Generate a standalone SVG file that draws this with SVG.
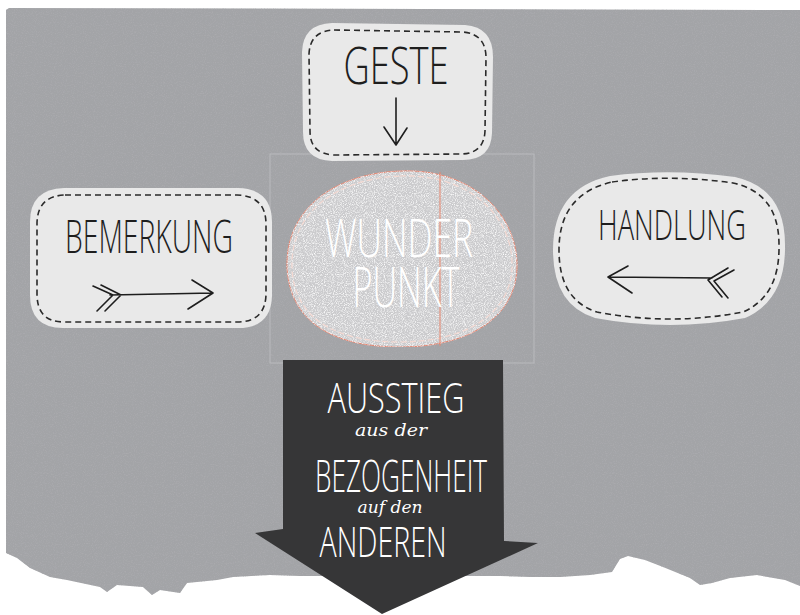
<svg xmlns="http://www.w3.org/2000/svg" width="800" height="615" viewBox="0 0 800 615">
<defs>
<style>
.box{fill:#e9e9e9;}
.dash{fill:none;stroke:#2a2a2a;stroke-width:1.6;stroke-dasharray:6 4;}
.pen{fill:none;stroke:#1e1e1e;stroke-width:1.6;stroke-linecap:round;stroke-linejoin:round;}
.hand{font-family:"Open Sans","DejaVu Sans",sans-serif;font-weight:300;text-anchor:middle;}
.dark{fill:#1e1e1e;}
.light{fill:#ffffff;}
.script{font-family:"DejaVu Serif","Liberation Serif",serif;font-style:italic;text-anchor:middle;fill:#ffffff;}
</style>
<filter id="grain" x="0" y="0" width="100%" height="100%">
<feTurbulence type="fractalNoise" baseFrequency="0.9" numOctaves="2" seed="3" result="n"/>
<feColorMatrix in="n" type="matrix" values="0 0 0 0 0.4  0 0 0 0 0.4  0 0 0 0 0.42  0 0 0 -3 1.6" result="s"/>
<feComposite in="s" in2="SourceGraphic" operator="in" result="sp"/>
<feMerge><feMergeNode in="SourceGraphic"/><feMergeNode in="sp"/></feMerge>
</filter>
<filter id="grain2" x="0" y="0" width="100%" height="100%">
<feTurbulence type="fractalNoise" baseFrequency="1.1" numOctaves="1" seed="7" result="n"/>
<feColorMatrix in="n" type="matrix" values="0 0 0 0 1  0 0 0 0 1  0 0 0 0 1  0 0 0 -2.5 1.4" result="s"/>
<feComposite in="s" in2="SourceGraphic" operator="in" result="sp"/>
<feMerge><feMergeNode in="SourceGraphic"/><feMergeNode in="sp"/></feMerge>
</filter>
</defs>
<rect width="800" height="615" fill="#ffffff"/>
<g id="paper">
<path filter="url(#grain)" fill="#a3a4a7" d="M 9,8 L 800,10 L 800,586 L 785,580 L 757,575 L 730,578 L 712,583 L 700,585 L 690,578 L 663,567 L 645,560 L 628,556 L 620,559 L 612,572 L 590,575 L 560,577 L 530,577 L 500,576 L 300,576 L 270,575 L 233,577 L 217,580 L 187,583 L 180,593 L 160,590 L 152,595 L 143,587 L 117,585 L 107,592 L 100,587 L 67,580 L 50,577 L 30,568 L 17,558 L 6,553 L 6,10 Z"/>
<rect x="270" y="154" width="264" height="209" fill="none" stroke="#b9babd" stroke-width="1"/>
</g>
<g id="geste">
<path class="box" d="M 332,23 L 465,25 Q 493,27 493,57 L 492,133 Q 491,160 463,160 L 332,161 Q 303,160 303,132 L 302,52 Q 303,24 332,23 Z"/>
<path class="dash" d="M 334,30 L 463,32 Q 486,34 486,58 L 485,131 Q 484,153 462,154 L 334,155 Q 310,154 310,131 L 309,54 Q 310,31 334,30 Z"/>
<text class="hand dark" x="396" y="84" font-size="52" textLength="105" lengthAdjust="spacingAndGlyphs">GESTE</text>
<path class="pen" d="M 396,98 L 396,145 M 384,127 L 396,145 L 407,128"/>
</g>
<g id="bemerkung">
<path class="box" d="M 64,188 L 238,188 Q 272,189 272,222 L 272,296 Q 271,328 238,328 L 63,328 Q 30,328 30,295 L 30,222 Q 30,189 64,188 Z"/>
<path class="dash" d="M 65,195 L 237,195 Q 266,196 266,224 L 266,295 Q 265,322 237,322 L 64,322 Q 37,322 37,294 L 37,224 Q 37,196 65,195 Z"/>
<text class="hand dark" x="149" y="253" font-size="46" textLength="168" lengthAdjust="spacingAndGlyphs">BEMERKUNG</text>
<path class="pen" d="M 110,295 L 213,293 M 192,280 L 213,293 L 188,309 M 93,286 L 113,295 L 97,311 M 101,285 L 121,295 L 105,311"/>
</g>
<g id="handlung">
<path class="box" d="M 610,176 Q 670,168 735,177 Q 785,188 785,245 Q 786,300 745,318 Q 670,332 595,318 Q 553,305 553,250 Q 553,188 610,176 Z"/>
<path class="dash" d="M 612,182 Q 670,174 733,183 Q 779,193 779,245 Q 780,296 743,312 Q 670,326 597,312 Q 559,300 559,250 Q 559,194 612,182 Z"/>
<text class="hand dark" x="672" y="240" font-size="42" textLength="148" lengthAdjust="spacingAndGlyphs">HANDLUNG</text>
<path class="pen" d="M 608,277 L 712,278 M 628,266 L 608,277 L 632,293 M 728,268 L 708,280 L 722,297 M 734,270 L 714,281 L 728,298"/>
</g>
<g id="wunderpunkt">
<path filter="url(#grain2)" fill="#cbcbcd" stroke="#e8866f" stroke-width="1" d="M 400,171 C 470,168 515,212 517,262 C 519,315 472,347 400,347 C 330,347 290,320 287,268 C 285,212 330,174 400,171 Z"/>
<path fill="none" stroke="#f4d9d2" stroke-width="1.2" stroke-dasharray="6 3" d="M 400,176 C 466,173 511,214 512,262 C 514,311 469,342 400,342 C 333,342 294,317 292,268 C 290,215 333,179 400,176 Z"/>
<line x1="440" y1="172" x2="440" y2="346" stroke="#e8866f" stroke-width="1"/>
<text class="hand light" x="399" y="257" font-size="54" textLength="148" lengthAdjust="spacingAndGlyphs">WUNDER</text>
<text class="hand light" x="406" y="307" font-size="55" textLength="107" lengthAdjust="spacingAndGlyphs">PUNKT</text>
</g>
<g id="ausstieg">
<path fill="#363637" d="M 283,360 L 503,360 L 504,541 L 538,543 L 382,614 L 255,533 L 283,529 Z"/>
<text class="hand light" x="396" y="413" font-size="43" textLength="137" lengthAdjust="spacingAndGlyphs">AUSSTIEG</text>
<text class="script" x="391" y="436" font-size="17" textLength="72" lengthAdjust="spacingAndGlyphs">aus der</text>
<text class="hand light" x="401" y="492" font-size="45" textLength="172" lengthAdjust="spacingAndGlyphs">BEZOGENHEIT</text>
<text class="script" x="390" y="513" font-size="17" textLength="65" lengthAdjust="spacingAndGlyphs">auf den</text>
<text class="hand light" x="383" y="557" font-size="42" textLength="127" lengthAdjust="spacingAndGlyphs">ANDEREN</text>
</g>
<g id="connectors"></g>
</svg>
